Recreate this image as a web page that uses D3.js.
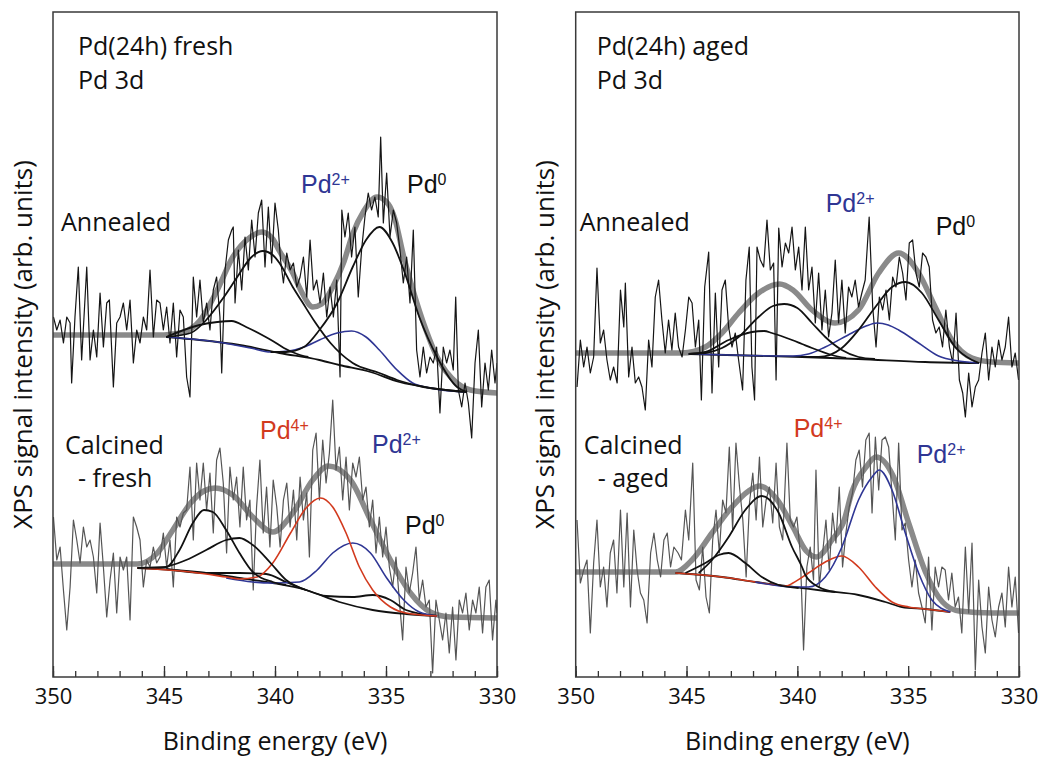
<!DOCTYPE html>
<html>
<head>
<meta charset="utf-8">
<script src="https://cdn.jsdelivr.net/npm/d3@7"></script>
<style>
  body { margin: 0; background: #fff; }
  svg { display: block; }
</style>
</head>
<body>
<div id="chart"></div>
<script>
// binding energy axis (eV), reversed as in XPS plots
const energyDomain = [350, 330];
const energyTicks = [350, 345, 340, 335, 330];

// ---- Pd(24h) fresh : annealed ----
const freshAnnealedRaw = [[349.98,360],[349.83,347],[349.68,357],[349.53,334],[349.38,360],[349.23,354],[349.16,294],[349.01,360],[348.86,410],[348.71,317],[348.48,410],[348.33,317],[348.18,347],[348.03,320],[347.88,384],[347.73,330],[347.58,374],[347.46,377],[347.28,290],[347.13,354],[346.98,360],[346.83,374],[346.68,347],[346.53,377],[346.38,314],[346.23,347],[346.08,334],[345.93,360],[345.78,347],[345.63,407],[345.48,340],[345.33,377],[345.18,374],[345.03,347],[344.88,370],[344.73,334],[344.58,374],[344.43,320],[344.28,367],[344.13,360],[343.98,300],[343.83,280],[343.68,400],[343.53,360],[343.38,397],[343.23,354],[343.08,374],[342.93,347],[342.78,387],[342.63,400],[342.48,360],[342.40,304],[342.25,407],[342.10,437],[341.95,447],[341.88,450],[341.80,374],[341.65,427],[341.50,387],[341.35,440],[341.20,407],[341.05,457],[340.90,420],[340.75,464],[340.60,477],[340.45,410],[340.30,470],[340.15,414],[340.00,474],[339.85,447],[339.75,417],[339.62,394],[339.47,424],[339.32,407],[339.17,414],[339.02,390],[338.87,400],[338.72,420],[338.57,380],[338.42,437],[338.27,387],[338.12,397],[337.97,374],[337.82,404],[337.67,360],[337.52,390],[337.37,360],[337.22,397],[337.07,300],[336.99,467],[336.85,440],[336.70,464],[336.55,420],[336.40,450],[336.25,380],[336.10,427],[335.95,460],[335.80,484],[335.65,467],[335.50,480],[335.35,460],[335.24,540],[335.12,454],[334.97,504],[334.82,440],[334.67,467],[334.52,454],[334.37,427],[334.22,394],[334.07,420],[333.92,374],[333.77,447],[333.62,327],[333.47,300],[333.32,330],[333.17,304],[333.02,320],[332.87,314],[332.72,330],[332.57,264],[332.42,330],[332.27,314],[332.12,327],[331.97,307],[331.86,380],[331.74,287],[331.59,270],[331.44,294],[331.29,274],[331.14,239],[330.99,314],[330.84,347],[330.69,270],[330.54,314],[330.39,287],[330.24,327],[330.09,294],[330.00,314]];
const freshAnnealedEnvelope = [[350,342],[346,342],[345,342],[344.6,343],[344.1,345],[343.4,356],[342.6,387],[341.9,420],[341.1,440],[340.6,445],[340.1,438],[339.8,426],[339.2,404],[338.8,385],[338.3,370],[337.9,373],[337.4,390],[336.9,415],[336.5,443],[336.0,466],[335.4,480],[334.9,473],[334.6,458],[334.2,420],[333.8,388],[333.2,347],[332.7,320],[331.8,294],[331.2,287],[330,284]];
const freshAnnealedBackground = [[344.9,340],[343.4,337],[341.6,332],[339.8,324],[338.0,317],[337.1,312],[335.7,305],[334.4,295],[333.0,289],[331.35,285]];
const freshAnnealedPd2 = [[344.9,340],[342.6,335],[341.1,329],[340.2,325],[339.4,326],[338.7,330],[338.0,337],[337.2,344],[336.55,346],[335.9,340],[335.3,327],[334.5,307],[333.8,294],[333.0,289],[332.1,286],[331.35,285]];
const freshAnnealedPd0High = [[344.9,340],[343.8,344],[343.1,357],[342.3,380],[341.7,400],[341.1,419],[340.55,426],[340.1,422],[339.8,414],[339.2,390],[338.8,376],[338.2,355],[337.5,334],[336.5,314],[335.3,304],[334.5,297],[333.5,291],[331.35,285]];
const freshAnnealedPd2High = [[344.9,340],[343.4,352],[342.6,355],[341.95,356],[341.3,350],[340.5,341],[340.1,336],[339.6,329],[339.0,323],[338.5,320]];
const freshAnnealedPd0Low = [[340.2,325],[339.5,325],[338.7,330],[338.0,347],[337.2,374],[336.5,410],[335.9,437],[335.3,450],[334.7,434],[334.2,407],[333.5,360],[332.7,320],[331.8,290],[331.35,285]];

// ---- Pd(24h) fresh : calcined ----
const freshCalcinedRaw = [[349.98,160],[349.83,117],[349.68,130],[349.53,87],[349.38,47],[349.23,90],[349.08,157],[348.93,137],[348.78,114],[348.63,150],[348.48,130],[348.33,137],[348.18,120],[348.03,84],[347.88,154],[347.73,110],[347.58,60],[347.43,97],[347.28,124],[347.13,64],[346.98,120],[346.83,107],[346.68,120],[346.53,57],[346.38,160],[346.23,150],[346.08,137],[345.93,90],[345.78,117],[345.63,110],[345.48,130],[345.33,114],[345.18,120],[345.03,144],[344.88,110],[344.73,137],[344.58,90],[344.43,160],[344.28,150],[344.13,164],[343.98,167],[343.83,210],[343.68,137],[343.53,214],[343.38,177],[343.23,214],[343.08,167],[342.93,204],[342.78,144],[342.63,217],[342.48,229],[342.33,194],[342.18,124],[342.03,210],[341.88,177],[341.73,200],[341.58,150],[341.43,210],[341.28,157],[341.13,177],[340.98,87],[340.83,170],[340.68,217],[340.53,144],[340.38,190],[340.23,130],[340.08,197],[339.92,170],[339.77,130],[339.62,177],[339.47,194],[339.32,150],[339.17,187],[339.02,137],[338.87,200],[338.72,157],[338.57,184],[338.45,120],[338.30,227],[338.15,244],[338.00,177],[337.85,237],[337.70,194],[337.55,224],[337.40,277],[337.25,207],[337.10,230],[336.95,177],[336.80,220],[336.65,167],[336.50,214],[336.35,200],[336.20,220],[336.05,177],[335.90,190],[335.75,150],[335.60,177],[335.45,124],[335.30,160],[335.15,120],[335.00,150],[334.85,110],[334.70,90],[334.55,120],[334.40,77],[334.25,37],[334.10,110],[333.95,84],[333.80,104],[333.65,130],[333.50,77],[333.35,97],[333.20,70],[333.05,77],[332.90,4],[332.75,77],[332.60,57],[332.45,37],[332.30,64],[332.15,24],[332.00,70],[331.85,17],[331.70,77],[331.55,64],[331.40,84],[331.25,47],[331.10,77],[330.95,64],[330.80,90],[330.65,44],[330.50,90],[330.35,97],[330.20,37],[330.05,77],[330.00,64]];
const freshCalcinedEnvelope = [[350,113],[346.2,113],[345.3,124],[344.6,147],[343.8,174],[343.2,186],[342.7,189],[341.9,182],[341.0,160],[340.1,145],[339.2,164],[338.3,197],[337.6,211],[336.6,197],[335.7,157],[334.8,117],[333.9,84],[333.0,65],[332.1,60],[330,59]];
const freshCalcinedBackground = [[346.2,109],[344.6,107],[343.1,104],[341.6,99],[340.1,94],[338.6,87],[337.1,75],[335.6,67],[334.1,63],[332.7,61]];
const freshCalcinedPd4 = [[346.2,109],[343.8,105],[342.2,100],[341.6,98],[340.8,100],[340.1,114],[339.3,144],[338.6,169],[337.95,179],[337.4,170],[336.8,144],[336.2,110],[335.6,87],[334.8,70],[334.1,64],[332.7,61]];
const freshCalcinedPd2 = [[342.2,99],[341.0,95],[340.1,94],[338.9,95],[338.1,107],[337.4,124],[336.5,134],[335.7,124],[335.0,100],[334.2,77],[333.5,65],[332.7,61]];
const freshCalcinedPd4High = [[346.2,109],[344.9,110],[344.3,127],[343.7,154],[343.2,167],[342.8,165],[342.2,147],[341.6,124],[341.0,105],[340.1,95],[339.5,92]];
const freshCalcinedPd2High = [[344.9,110],[344.0,117],[343.1,127],[342.2,137],[341.6,139],[341.0,132],[340.2,114],[339.5,97],[338.6,87]];
const freshCalcinedPd0 = [[344.9,108],[343.1,104],[341.6,104],[340.4,103],[339.5,95],[338.6,87],[337.7,81],[336.5,80],[335.6,82],[334.8,77],[334.1,67],[332.7,61]];

// ---- Pd(24h) aged : annealed ----
const agedAnnealedRaw = [[349.94,290],[349.79,337],[349.64,310],[349.49,330],[349.34,304],[349.19,320],[349.04,409],[348.89,334],[348.74,347],[348.59,317],[348.44,297],[348.29,310],[348.13,294],[347.98,387],[347.83,350],[347.76,394],[347.61,300],[347.46,330],[347.31,294],[347.16,300],[347.01,290],[346.86,267],[346.71,337],[346.56,310],[346.41,380],[346.26,397],[346.11,357],[345.96,324],[345.81,357],[345.66,327],[345.51,364],[345.36,330],[345.20,320],[345.05,347],[344.90,380],[344.75,374],[344.60,330],[344.45,357],[344.33,277],[344.18,390],[344.00,425],[343.85,284],[343.70,384],[343.55,310],[343.40,387],[343.25,397],[343.10,350],[342.95,330],[342.80,344],[342.65,317],[342.47,287],[342.32,397],[342.17,430],[342.05,310],[341.93,277],[341.82,430],[341.67,417],[341.52,410],[341.37,457],[341.22,407],[341.07,414],[340.96,297],[340.84,449],[340.69,410],[340.54,434],[340.39,424],[340.24,450],[340.09,407],[339.94,430],[339.79,387],[339.64,450],[339.49,387],[339.34,410],[339.19,354],[339.04,404],[338.89,347],[338.74,387],[338.59,340],[338.44,364],[338.29,417],[338.14,354],[337.99,397],[337.84,344],[337.69,390],[337.54,380],[337.39,397],[337.24,370],[337.09,384],[336.94,397],[336.76,460],[336.60,370],[336.45,330],[336.30,380],[336.15,367],[336.00,387],[335.85,357],[335.70,400],[335.55,390],[335.40,420],[335.25,404],[335.10,377],[334.95,434],[334.80,437],[334.65,404],[334.50,390],[334.35,424],[334.20,420],[334.05,410],[333.90,357],[333.75,344],[333.60,350],[333.45,330],[333.30,367],[333.14,330],[332.99,314],[332.84,364],[332.69,297],[332.54,284],[332.42,260],[332.27,304],[332.12,270],[331.97,290],[331.82,297],[331.67,324],[331.52,344],[331.37,297],[331.22,330],[331.07,310],[330.92,337],[330.77,317],[330.62,330],[330.47,360],[330.32,310],[330.17,324],[330.02,297]];
const agedAnnealedEnvelope = [[350,324],[345.2,324],[344.15,330],[343.4,344],[342.65,364],[341.75,384],[340.8,393],[340.2,387],[339.34,367],[338.3,354],[337.24,367],[336.33,404],[335.43,424],[334.53,404],[333.78,370],[333.03,337],[332.12,319],[331.22,315],[330,314]];
const agedAnnealedBackground = [[344.9,323],[339.8,320],[337.24,318],[334.23,315],[331.8,314]];
const agedAnnealedPd2 = [[344.9,323],[340.2,321],[339.5,323],[338.74,330],[337.54,344],[336.9,351],[336.4,354],[335.9,352],[335.43,347],[334.53,334],[333.63,321],[332.73,316],[331.8,314]];
const agedAnnealedPd0High = [[344.9,323],[344.15,324],[343.4,329],[342.65,340],[341.75,360],[341.1,371],[340.6,373],[340.0,369],[339.34,354],[338.74,340],[337.99,327],[337.24,320],[336.5,318]];
const agedAnnealedPd2High = [[344.9,323],[344.15,325],[343.1,337],[342.05,345],[341.5,346],[341.15,344],[340.24,337],[339.79,333],[339.34,329],[338.44,322],[337.8,319]];
const agedAnnealedPd0Low = [[339.8,320],[339.04,320],[337.99,329],[337.24,347],[336.48,370],[335.73,390],[335.13,395],[334.38,384],[333.63,357],[332.88,330],[332.12,317],[331.8,314]];

// ---- Pd(24h) aged : calcined ----
const agedCalcinedRaw = [[349.94,157],[349.79,94],[349.64,107],[349.49,117],[349.34,44],[349.19,114],[349.04,157],[348.89,90],[348.74,110],[348.59,70],[348.44,124],[348.29,137],[348.14,84],[347.98,167],[347.83,90],[347.68,164],[347.53,70],[347.38,147],[347.23,107],[347.08,84],[346.93,77],[346.78,54],[346.62,124],[346.47,144],[346.32,117],[346.17,100],[346.02,137],[345.87,144],[345.72,110],[345.57,130],[345.38,124],[345.23,117],[345.05,167],[344.90,137],[344.72,214],[344.57,97],[344.42,87],[344.27,130],[344.12,80],[343.97,64],[343.82,137],[343.67,167],[343.52,124],[343.37,177],[343.22,164],[343.07,230],[342.92,147],[342.77,234],[342.61,190],[342.46,157],[342.31,100],[342.16,174],[342.01,204],[341.86,157],[341.71,220],[341.56,150],[341.41,177],[341.26,190],[341.11,154],[340.96,214],[340.81,150],[340.66,137],[340.47,234],[340.32,157],[340.17,150],[340.02,160],[339.87,124],[339.72,27],[339.57,110],[339.42,130],[339.27,97],[339.16,207],[339.01,90],[338.86,124],[338.71,157],[338.56,107],[338.41,164],[338.26,134],[338.11,190],[337.96,110],[337.81,144],[337.66,170],[337.51,184],[337.36,217],[337.21,227],[337.06,190],[336.91,237],[336.76,244],[336.63,164],[336.48,240],[336.33,187],[336.18,237],[336.03,240],[335.88,230],[335.73,184],[335.58,137],[335.43,234],[335.28,147],[335.13,154],[334.98,117],[334.83,90],[334.68,117],[334.53,84],[334.38,70],[334.23,54],[334.08,120],[333.93,47],[333.78,110],[333.63,90],[333.48,110],[333.33,107],[333.18,77],[333.03,104],[332.88,70],[332.73,80],[332.58,44],[332.42,130],[332.27,64],[332.12,134],[331.97,7],[331.82,97],[331.67,50],[331.52,24],[331.37,90],[331.22,57],[331.07,40],[330.92,70],[330.77,84],[330.62,50],[330.47,110],[330.32,70],[330.17,100],[330.02,44]];
const agedCalcinedEnvelope = [[350,105],[345.5,105],[344.75,117],[343.85,144],[342.95,170],[342.2,186],[341.7,191],[340.9,177],[340.2,150],[339.6,126],[339.13,120],[338.44,137],[337.9,156],[337.54,185],[336.9,210],[336.45,220],[335.7,202],[334.95,152],[334.2,104],[333.45,75],[332.7,66],[331.2,64],[330,64]];
const agedCalcinedBackground = [[345.5,104],[343.4,100],[341.9,95],[339.8,89],[338.74,86],[337.24,82],[336.03,75],[335.28,70],[334.23,68],[333.1,65]];
const agedCalcinedPd4 = [[345.5,104],[343.4,100],[341.9,95],[340.5,91],[340.2,94],[339.5,104],[338.74,115],[338.0,121],[337.24,110],[336.48,90],[335.73,75],[334.98,70],[334.23,68],[333.1,65]];
const agedCalcinedPd2 = [[341.9,95],[340.2,90],[339.5,90],[338.74,100],[337.99,130],[337.24,177],[336.63,200],[336.3,207],[335.73,187],[335.13,144],[334.53,104],[333.93,77],[333.1,65]];
const agedCalcinedPd2High = [[344.45,104],[343.85,117],[343.1,140],[342.35,167],[341.6,181],[340.84,164],[340.24,130],[339.79,110],[339.64,102],[339.04,90],[338.29,85]];
const agedCalcinedPd4High = [[345.05,104],[344.15,114],[343.55,122],[343.1,124],[342.35,114],[341.6,100],[340.84,92],[339.94,89]];

// ---- colours ----
const blue = "#2f3694";
const red = "#d23a1e";
const black = "#111";
const envelopeGrey = "#8a8a8a";

const width = 1039, height = 759;
const plotTop = 12, plotBottom = 677;

const svg = d3.select("#chart").append("svg")
  .attr("width", width)
  .attr("height", height)
  .attr("viewBox", `0 0 ${width} ${height}`);

const textFont = "'Open Sans', 'Noto Sans', sans-serif";
const speciesFont = "'Liberation Sans', Arial, sans-serif";

const panels = [
  {
    id: "fresh", x0: 53, x1: 497, yLabelX: 32,
    texts: [
      { t: "Pd(24h) fresh", dx: 25, y: 55 }, { t: "Pd 3d", dx: 25, y: 89 },
      { t: "Annealed", dx: 8, y: 231 }, { t: "Calcined", dx: 12, y: 454 }, { t: "- fresh", dx: 25, y: 487 }
    ],
    species: [
      { sup: "2+", color: blue, dx: 248, y: 193 }, { sup: "0", color: black, dx: 354, y: 193 },
      { sup: "4+", color: red, dx: 207, y: 439 }, { sup: "2+", color: blue, dx: 319, y: 453 },
      { sup: "0", color: black, dx: 352, y: 534 }
    ],
    spectra: [
      { raw: freshAnnealedRaw, rawColor: "#151515", env: freshAnnealedEnvelope,
        fits: [[freshAnnealedBackground, black], [freshAnnealedPd2, blue], [freshAnnealedPd2High, black],
               [freshAnnealedPd0High, black], [freshAnnealedPd0Low, black]] },
      { raw: freshCalcinedRaw, rawColor: "#555", env: freshCalcinedEnvelope,
        fits: [[freshCalcinedBackground, black], [freshCalcinedPd0, black], [freshCalcinedPd2, blue],
               [freshCalcinedPd4, red], [freshCalcinedPd4High, black], [freshCalcinedPd2High, black]] }
    ]
  },
  {
    id: "aged", x0: 575.7, x1: 1019, yLabelX: 554,
    texts: [
      { t: "Pd(24h) aged", dx: 21, y: 55 }, { t: "Pd 3d", dx: 21, y: 89 },
      { t: "Annealed", dx: 4, y: 231 }, { t: "Calcined", dx: 8, y: 454 }, { t: "- aged", dx: 22, y: 487 }
    ],
    species: [
      { sup: "2+", color: blue, dx: 250, y: 212 }, { sup: "0", color: black, dx: 360, y: 235 },
      { sup: "4+", color: red, dx: 218, y: 437 }, { sup: "2+", color: blue, dx: 341, y: 463 }
    ],
    spectra: [
      { raw: agedAnnealedRaw, rawColor: "#151515", env: agedAnnealedEnvelope,
        fits: [[agedAnnealedBackground, black], [agedAnnealedPd2, blue], [agedAnnealedPd2High, black],
               [agedAnnealedPd0High, black], [agedAnnealedPd0Low, black]] },
      { raw: agedCalcinedRaw, rawColor: "#555", env: agedCalcinedEnvelope,
        fits: [[agedCalcinedBackground, black], [agedCalcinedPd4, red], [agedCalcinedPd2, blue],
               [agedCalcinedPd4High, black], [agedCalcinedPd2High, black]] }
    ]
  }
];

panels.forEach((p) => {
  const x = d3.scaleLinear().domain(energyDomain).range([p.x0, p.x1]);
  // intensity in arbitrary units, both spectra stacked on one scale
  const y = d3.scaleLinear().domain([0, plotBottom - plotTop]).range([plotBottom, plotTop]);

  const g = svg.append("g");

  g.append("clipPath").attr("id", `clip-${p.id}`)
    .append("rect")
    .attr("x", p.x0).attr("y", plotTop)
    .attr("width", p.x1 - p.x0).attr("height", plotBottom - plotTop);

  const plot = g.append("g").attr("clip-path", `url(#clip-${p.id})`);

  const rawLine = d3.line().x((d) => x(d[0])).y((d) => y(d[1]));
  const fitLine = d3.line().x((d) => x(d[0])).y((d) => y(d[1])).curve(d3.curveMonotoneX);

  p.spectra.forEach((s) => {
    plot.append("path").datum(s.env)
      .attr("d", fitLine)
      .attr("fill", "none")
      .attr("stroke", envelopeGrey)
      .attr("stroke-width", 5.5)
      .attr("stroke-linecap", "round");

    plot.append("path").datum(s.raw)
      .attr("d", rawLine)
      .attr("fill", "none")
      .attr("stroke", s.rawColor)
      .attr("stroke-width", 1.2)
      .attr("stroke-linejoin", "round");

    s.fits.forEach(([data, color]) => {
      plot.append("path").datum(data)
        .attr("d", fitLine)
        .attr("fill", "none")
        .attr("stroke", color)
        .attr("stroke-width", color === black ? 1.8 : 1.6);
    });
  });

  // ticks point inward from the bottom frame
  const axisG = g.append("g").attr("transform", `translate(0,${plotBottom})`);
  axisG.call(d3.axisBottom(x).ticks(20).tickSize(-6).tickFormat(""));
  axisG.call((a) => a.select(".domain").remove());
  const majorG = g.append("g").attr("transform", `translate(0,${plotBottom})`);
  majorG.call(d3.axisBottom(x).tickValues(energyTicks).tickSize(-11).tickPadding(11).tickFormat(d3.format("d")));
  majorG.select(".domain").remove();
  g.selectAll(".tick line").attr("stroke", "#333").attr("stroke-width", 1.3);
  majorG.selectAll(".tick text")
    .style("font-family", textFont)
    .style("font-size", "22px")
    .attr("fill", "#111");

  g.append("rect")
    .attr("x", p.x0).attr("y", plotTop)
    .attr("width", p.x1 - p.x0).attr("height", plotBottom - plotTop)
    .attr("fill", "none")
    .attr("stroke", "#3a3a3a")
    .attr("stroke-width", 1.5);

  g.append("text")
    .attr("x", (p.x0 + p.x1) / 2)
    .attr("y", 750)
    .attr("text-anchor", "middle")
    .style("font-family", textFont)
    .style("font-size", "25px")
    .attr("fill", "#111")
    .text("Binding energy (eV)");

  g.append("text")
    .attr("transform", `translate(${p.yLabelX},${(plotTop + plotBottom) / 2}) rotate(-90)`)
    .attr("text-anchor", "middle")
    .style("font-family", textFont)
    .style("font-size", "26px")
    .attr("fill", "#111")
    .text("XPS signal intensity (arb. units)");

  p.texts.forEach((t) => {
    g.append("text")
      .attr("x", p.x0 + t.dx)
      .attr("y", t.y)
      .style("font-family", textFont)
      .style("font-size", "25px")
      .attr("fill", "#111")
      .text(t.t);
  });

  p.species.forEach((s) => {
    const txt = g.append("text")
      .attr("x", p.x0 + s.dx)
      .attr("y", s.y)
      .style("font-family", speciesFont)
      .style("font-size", "25px")
      .attr("fill", s.color);
    txt.append("tspan").text("Pd");
    txt.append("tspan").attr("dy", -8).style("font-size", "16px").text(s.sup);
  });
});
</script>
</body>
</html>
